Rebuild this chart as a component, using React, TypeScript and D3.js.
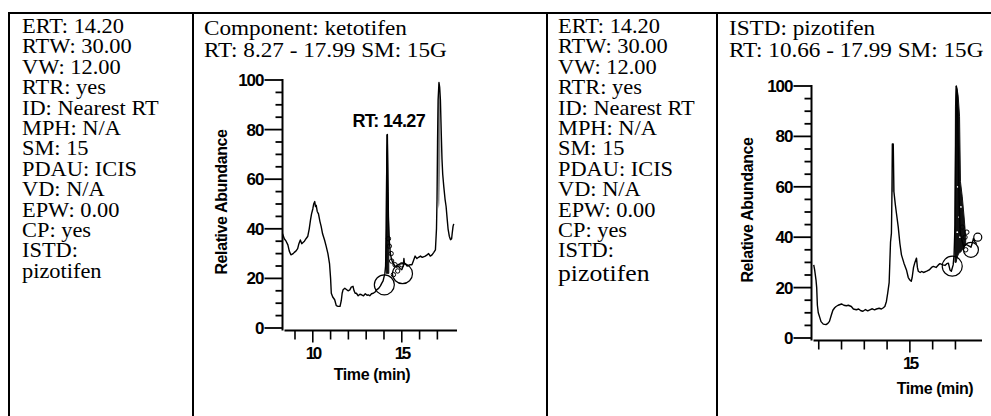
import React from 'react';
import * as d3 from 'd3';

// processing parameters (left text cells)
const infoLines = [
  'ERT: 14.20', 'RTW: 30.00', 'VW: 12.00', 'RTR: yes', 'ID: Nearest RT', 'MPH: N/A',
  'SM: 15', 'PDAU: ICIS', 'VD: N/A', 'EPW: 0.00', 'CP: yes', 'ISTD:',
];
const istdName = 'pizotifen';

const ketoHeader = ['Component: ketotifen', 'RT: 8.27 - 17.99 SM: 15G'];
const pizoHeader = ['ISTD: pizotifen', 'RT: 10.66 - 17.99 SM: 15G'];
const ketoRange: [number, number] = [8.27, 17.99];
const pizoRange: [number, number] = [10.66, 17.99];
const ketoRtLabel = { t: 14.27, v: 78, text: 'RT: 14.27' };

// [time (min), relative abundance]
const ketoTrace: [number, number][] = [
  [8.3, 38], [8.4, 36], [8.5, 35], [8.6, 33.5], [8.68, 31], [8.77, 29.5], [8.9, 30], [8.96, 30.5],
  [9.05, 31], [9.15, 32], [9.22, 34], [9.3, 35.5], [9.38, 34], [9.45, 34.5], [9.53, 35], [9.62, 36],
  [9.72, 37], [9.8, 40], [9.87, 43.5], [9.93, 46], [10.0, 48], [10.05, 50], [10.11, 51], [10.15, 49],
  [10.19, 49.5], [10.25, 47], [10.32, 46], [10.4, 43], [10.47, 41], [10.55, 38], [10.66, 35.5],
  [10.75, 33], [10.85, 30], [10.94, 26], [11.0, 20], [11.04, 14], [11.12, 12.5], [11.23, 11.4],
  [11.32, 9], [11.42, 8.7], [11.53, 8.7], [11.6, 11], [11.65, 14], [11.7, 15.4], [11.8, 16],
  [11.89, 15.5], [11.98, 15], [12.08, 15.4], [12.16, 16.5], [12.26, 16.8], [12.32, 15], [12.38, 14],
  [12.45, 14], [12.55, 13], [12.65, 13.6], [12.74, 13.4], [12.85, 13], [12.95, 13.8], [13.05, 13.2],
  [13.11, 13.4], [13.2, 13], [13.3, 13.8], [13.4, 14], [13.5, 14.5], [13.58, 15.4], [13.7, 16],
  [13.8, 17], [13.87, 18], [13.95, 19], [14.05, 22], [14.09, 25], [14.13, 40], [14.16, 70],
  [14.19, 78], [14.22, 60], [14.25, 45], [14.3, 35], [14.36, 30], [14.43, 27.5], [14.52, 26],
  [14.62, 25], [14.72, 24.5], [14.81, 25], [14.9, 24], [15.0, 23.5], [15.08, 25], [15.12, 28],
  [15.15, 26], [15.19, 26], [15.3, 25], [15.45, 25.5], [15.57, 25.5], [15.65, 27], [15.75, 29],
  [15.85, 28], [15.94, 28.5], [16.05, 29], [16.15, 28.5], [16.32, 29], [16.42, 29.5], [16.51, 30],
  [16.6, 29], [16.7, 29.5], [16.8, 30.5], [16.89, 31.5], [16.95, 40], [16.98, 52], [17.01, 75],
  [17.04, 92], [17.09, 99], [17.13, 97], [17.17, 92], [17.22, 78], [17.26, 68], [17.3, 62],
  [17.36, 57], [17.43, 52], [17.49, 49], [17.55, 44], [17.6, 40], [17.67, 37], [17.74, 35.6],
  [17.8, 36], [17.83, 38], [17.88, 41], [17.92, 42],
];
// [time, low, high] : densely overdrawn scan region of the peak
const ketoDense: [number, number, number][] = [
  [14.11, 24, 30], [14.14, 22, 62], [14.17, 22, 78], [14.2, 22, 74], [14.23, 22, 55], [14.27, 22, 36],
];
const ketoShade: [number, number, number][] = [
  [17.0, 62, 62], [17.03, 52, 88], [17.07, 48, 99], [17.11, 50, 98], [17.14, 60, 93], [17.17, 72, 72],
];
const ketoLoops: [number, number][] = [
  [14.25, 36], [14.3, 33], [14.4, 30], [14.43, 27], [14.62, 25.5], [14.77, 23], [14.53, 21.5], [15.0, 25.5],
];
// integration markers [time, abundance, radius px]
const ketoMarks: [number, number, number][] = [[14.02, 17.4, 10], [15.04, 21.9, 10]];

const pizoTrace: [number, number][] = [
  [10.78, 29], [10.82, 27], [10.88, 23], [10.91, 20], [10.94, 13], [10.98, 10], [11.05, 8], [11.1, 6.5],
  [11.2, 5.5], [11.32, 5.3], [11.4, 5.8], [11.47, 6.6], [11.55, 9], [11.62, 11], [11.7, 12],
  [11.76, 12.5], [11.85, 13], [11.91, 13.2], [12.0, 13.5], [12.1, 13], [12.21, 12.8], [12.3, 13],
  [12.43, 12.5], [12.52, 11.5], [12.65, 11.2], [12.75, 11.5], [12.85, 10.8], [12.94, 10.6],
  [13.05, 11.3], [13.15, 10.8], [13.24, 11.2], [13.35, 11.6], [13.45, 11.2], [13.53, 11.5],
  [13.65, 11.8], [13.75, 11.5], [13.82, 11.9], [13.9, 12.5], [13.97, 14.5], [14.03, 18], [14.09, 22],
  [14.12, 30], [14.15, 38], [14.19, 41.6], [14.21, 55], [14.23, 77], [14.27, 77], [14.3, 58],
  [14.36, 53], [14.41, 49.5], [14.49, 44], [14.56, 37.6], [14.63, 33], [14.74, 29.7], [14.85, 27],
  [14.93, 24], [15.0, 23], [15.06, 22.5], [15.1, 24], [15.16, 28], [15.22, 30], [15.29, 31.7],
  [15.33, 28], [15.37, 26.5], [15.45, 26], [15.51, 26.4], [15.6, 26], [15.74, 26.5], [15.85, 27],
  [15.95, 28], [16.03, 28.4], [16.15, 28], [16.25, 29], [16.32, 29.5], [16.45, 29], [16.54, 28.8],
  [16.62, 29.5], [16.69, 29.7], [16.76, 27], [16.82, 26.5], [16.9, 29], [16.94, 33], [16.98, 45],
  [17.01, 75], [17.04, 100], [17.08, 97], [17.12, 75], [17.16, 55], [17.21, 41.6], [17.28, 39],
  [17.35, 36.5], [17.42, 37], [17.5, 37], [17.6, 36.5], [17.68, 36], [17.75, 38], [17.79, 39.5],
  [17.86, 38], [17.94, 37.5],
];
const pizoDense: [number, number, number][] = [
  [16.98, 30, 50], [17.0, 30, 92], [17.03, 30, 100], [17.07, 32, 99], [17.12, 33, 96], [17.18, 34, 88],
  [17.22, 34, 62], [17.3, 35, 56], [17.38, 36, 48], [17.45, 37, 40],
];
const pizoSpecks: [number, number][] = [[17.1, 60], [17.16, 48], [17.08, 42], [17.24, 52], [17.2, 40]];
const pizoShade: [number, number, number][] = [
  [14.21, 55, 55], [14.23, 58, 77], [14.27, 58, 77], [14.29, 58, 58],
];
const pizoLoops: [number, number][] = [[17.3, 44], [17.42, 40], [17.5, 42], [17.45, 35]];
const pizoMarks: [number, number, number][] = [[16.86, 28.5, 10], [17.68, 35, 7.5], [17.98, 40, 4]];

const SERIF = '"Liberation Serif", "Times New Roman", serif';
const SANS = '"Liberation Sans", Arial, sans-serif';

type ChartProps = {
  header: string[];
  headerX: number;
  domain: [number, number];
  xRange: [number, number];
  yRange: [number, number];
  axisEnd: number;
  titleX: number;
  titleY: number;
  yTitleX: number;
  trace: [number, number][];
  dense: [number, number, number][];
  shade: [number, number, number][];
  loops: [number, number][];
  specks?: [number, number][];
  marks: [number, number, number][];
  rt?: { t: number; v: number; text: string };
};

function Chromatogram(p: ChartProps) {
  const x = d3.scaleLinear().domain(p.domain).range(p.xRange);
  const y = d3.scaleLinear().domain([0, 100]).range(p.yRange);
  const line = d3.line<[number, number]>().x(d => x(d[0])).y(d => y(d[1]));
  const band = d3.area<[number, number, number]>().x(d => x(d[0])).y0(d => y(d[1])).y1(d => y(d[2]));

  const axisX = p.xRange[0] + 0.5;
  const axisY = y(0) + 2.5;
  const yMinor = d3.range(0, 101, 5);
  const yMajor = d3.ticks(0, 100, 5);
  const xMinor = d3.range(Math.ceil(p.domain[0]), Math.floor(p.domain[1]) + 1);

  return (
    <g>
      {p.header.map((s, i) => (
        <text key={s} transform={`translate(${p.headerX},${35 + i * 22}) scale(1.16,1)`}
          fontFamily={SERIF} fontSize={20}>{s}</text>
      ))}

      {/* y axis */}
      <line x1={axisX} x2={axisX} y1={y(100) - 1} y2={axisY} stroke="#000" strokeWidth={2} />
      {yMinor.map(v => (
        <line key={v} x1={axisX - (v % 20 === 0 ? 18 : 7)} x2={axisX} y1={y(v)} y2={y(v)}
          stroke="#000" strokeWidth={1.8} />
      ))}
      {yMajor.map(v => (
        <text key={v} x={axisX - 19} y={y(v) + 6} textAnchor="end" fontFamily={SANS}
          fontWeight="bold" fontSize={17} letterSpacing={-1}>{v}</text>
      ))}
      <text transform={`translate(${p.yTitleX},${(y(100) + y(0)) / 2 - 2}) rotate(-90)`}
        textAnchor="middle" fontFamily={SANS} fontWeight="bold" fontSize={16}
        letterSpacing={-0.4}>Relative Abundance</text>

      {/* x axis */}
      <line x1={axisX + 2} x2={p.axisEnd} y1={axisY} y2={axisY} stroke="#000" strokeWidth={2.2} />
      {xMinor.map(t => (
        <line key={t} x1={x(t)} x2={x(t)} y1={axisY} y2={axisY + (t % 5 === 0 ? 12 : 9)}
          stroke="#000" strokeWidth={1.6} />
      ))}
      {xMinor.filter(t => t % 5 === 0).map(t => (
        <text key={t} x={x(t)} y={axisY + 28} textAnchor="middle" fontFamily={SANS}
          fontWeight="bold" fontSize={17} letterSpacing={-2.5}>{t}</text>
      ))}
      <text x={p.titleX} y={p.titleY} textAnchor="middle" fontFamily={SANS} fontWeight="bold"
        fontSize={16} letterSpacing={-0.4}>Time (min)</text>

      {/* trace */}
      <path d={band(p.shade) ?? ''} fill="#8a8a8a" stroke="none" />
      <path d={band(p.dense) ?? ''} fill="#111" stroke="#111" strokeWidth={1} />
      {(p.specks ?? []).map((d, i) => (
        <circle key={i} cx={x(d[0])} cy={y(d[1])} r={0.9} fill="#fff" />
      ))}
      <path d={line(p.trace) ?? ''} fill="none" stroke="#000" strokeWidth={1.4} strokeLinejoin="round" />
      {p.loops.map((d, i) => (
        <circle key={i} cx={x(d[0])} cy={y(d[1])} r={2.2} fill="none" stroke="#000" strokeWidth={1} />
      ))}
      {p.marks.map((d, i) => (
        <circle key={i} cx={x(d[0])} cy={y(d[1])} r={d[2]} fill="none" stroke="#000" strokeWidth={1.2} />
      ))}
      {p.rt && (
        <text x={x(p.rt.t)} y={y(p.rt.v) - 8} textAnchor="middle" fontFamily={SANS}
          fontWeight="bold" fontSize={18} letterSpacing={-0.6}>{p.rt.text}</text>
      )}
    </g>
  );
}

function InfoCell({ x, bigName }: { x: number; bigName: boolean }) {
  return (
    <g>
      {infoLines.map((s, i) => (
        <text key={s} transform={`translate(${x},${33 + i * 20.4}) scale(1.12,1)`}
          fontFamily={SERIF} fontSize={20}>{s}</text>
      ))}
      <text transform={`translate(${x},${33 + infoLines.length * 20.4 + (bigName ? 3 : 0)}) scale(1.12,1)`}
        fontFamily={SERIF} fontSize={bigName ? 23 : 20}>{istdName}</text>
    </g>
  );
}

export default function App() {
  const cols = [9, 193, 547, 717];
  return (
    <svg width={991} height={416} style={{ position: 'absolute', left: 0, top: 0, background: '#fff' }}>
      <line x1={8} x2={991} y1={13} y2={13} stroke="#000" strokeWidth={2} />
      {cols.map(c => (
        <line key={c} x1={c} x2={c} y1={12} y2={416} stroke="#000" strokeWidth={2} />
      ))}
      <InfoCell x={22} bigName={false} />
      <InfoCell x={558} bigName={true} />
      <Chromatogram header={ketoHeader} headerX={204} domain={ketoRange} xRange={[282, 455]}
        yRange={[328, 80]} axisEnd={457} titleX={372} titleY={380} yTitleX={227}
        trace={ketoTrace} dense={ketoDense} shade={ketoShade} loops={ketoLoops} marks={ketoMarks}
        rt={ketoRtLabel} />
      <Chromatogram header={pizoHeader} headerX={729} domain={pizoRange} xRange={[811, 978]}
        yRange={[338, 86]} axisEnd={982} titleX={935} titleY={394} yTitleX={753}
        trace={pizoTrace} dense={pizoDense} shade={pizoShade} loops={pizoLoops} specks={pizoSpecks}
        marks={pizoMarks} />
    </svg>
  );
}
